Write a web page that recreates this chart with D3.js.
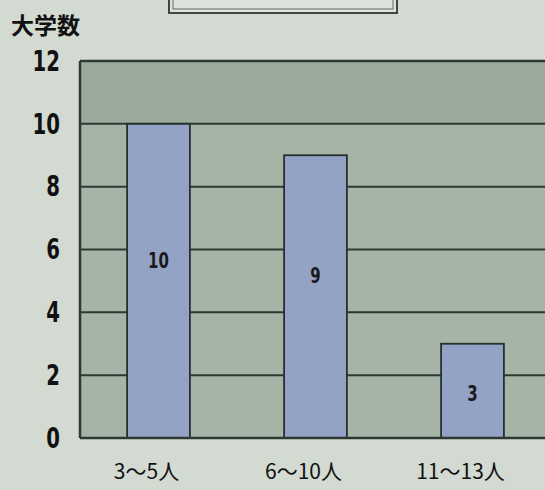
<!DOCTYPE html>
<html><head><meta charset="utf-8">
<script src="https://cdn.jsdelivr.net/npm/d3@7"></script>
<style>
html,body{margin:0;padding:0;background:#d3dad1;overflow:hidden}
</style></head>
<body>
<svg id="c" width="545" height="490"></svg>
<script>
const categories = ["3～5人", "6～10人", "11～13人"];
const values = [10, 9, 3];
const yTicks = [0, 2, 4, 6, 8, 10, 12];
const yLabel = "大学数";

(function () {
const svg = d3.select("#c");
const W = 545, H = 490;
const pLeft = 80, pTop = 60, pRight = 551, pBottom = 438;
const font = "'DejaVu Sans',sans-serif";
const sx = 0.68;

svg.append("rect").attr("width", W).attr("height", H).attr("fill", "#d3dad1");

// title box (cut off at top)
svg.append("rect").attr("x", 169).attr("y", -20).attr("width", 228).attr("height", 33)
  .attr("fill", "#dde2da").attr("stroke", "#333").attr("stroke-width", 1.8);
svg.append("rect").attr("x", 173).attr("y", -20).attr("width", 220).attr("height", 29)
  .attr("fill", "none").attr("stroke", "#666").attr("stroke-width", 1);

const x = d3.scaleBand().domain(categories).range([pLeft, pRight]).paddingInner(0.6).paddingOuter(0.3);
const y = d3.scaleLinear().domain([0, 12]).range([pBottom, pTop + 1]);

// plot area
svg.append("rect").attr("x", pLeft).attr("y", y(12)).attr("width", pRight - pLeft).attr("height", pBottom - y(12))
  .attr("fill", "#a5b4a7");
svg.append("rect").attr("x", pLeft).attr("y", y(12)).attr("width", pRight - pLeft).attr("height", y(10) - y(12))
  .attr("fill", "#9aab9e");

// gridlines
svg.append("g").selectAll("line").data(yTicks.filter(d => d > 0 && d < 12)).join("line")
  .attr("x1", pLeft).attr("x2", pRight).attr("y1", d => y(d)).attr("y2", d => y(d))
  .attr("stroke", "#2e3832").attr("stroke-width", 2);
svg.append("line").attr("x1", pLeft).attr("x2", pRight).attr("y1", y(12)).attr("y2", y(12))
  .attr("stroke", "#2e3832").attr("stroke-width", 2.5);

// bars
svg.append("g").selectAll("rect").data(values).join("rect")
  .attr("x", (d, i) => x(categories[i])).attr("width", x.bandwidth())
  .attr("y", d => y(d)).attr("height", d => pBottom - y(d))
  .attr("fill", "#93a2c5").attr("stroke", "#26302c").attr("stroke-width", 1.8);

// bar labels
svg.append("g").selectAll("text").data(values).join("text")
  .attr("transform", (d, i) => `translate(${x(categories[i]) + x.bandwidth() / 2},${(y(d) + pBottom) / 2 + (d > 5 ? -21 : 3)}) scale(${sx},1)`)
  .attr("text-anchor", "middle").attr("dominant-baseline", "central")
  .attr("font-family", font).attr("font-weight", "bold").attr("font-size", 22)
  .attr("fill", "#1a1a1a").text(d => d);

// axis lines
svg.append("line").attr("x1", pLeft).attr("x2", pLeft).attr("y1", y(12)).attr("y2", pBottom)
  .attr("stroke", "#2e3832").attr("stroke-width", 2.5);
svg.append("line").attr("x1", pLeft).attr("x2", pRight).attr("y1", pBottom).attr("y2", pBottom)
  .attr("stroke", "#2e3832").attr("stroke-width", 2.5);

// y tick labels
const yAxis = d3.axisLeft(y).tickValues(yTicks).tickSize(0).tickPadding(0);
const gy = svg.append("g").attr("transform", `translate(${pLeft - 20},0)`).call(yAxis);
gy.select(".domain").remove();
gy.selectAll("text").attr("x", 0).attr("transform", `scale(${sx},1)`)
  .attr("font-family", font).attr("font-weight", "bold")
  .attr("font-size", 29).attr("fill", "#111");

// x labels
const xAxis = d3.axisBottom(x).tickSize(0).tickPadding(26);
const gx = svg.append("g").attr("transform", `translate(-12,${pBottom})`).call(xAxis);
gx.select(".domain").remove();
gx.selectAll("text").attr("font-family", "'Noto Sans CJK JP',sans-serif")
  .attr("font-size", 21).attr("fill", "#111");

// y label
svg.append("text").attr("x", 11).attr("y", 24).attr("dominant-baseline", "central")
  .attr("font-family", "'Noto Sans CJK JP',sans-serif").attr("font-weight", "bold")
  .attr("font-size", 23).attr("fill", "#111").text(yLabel);
})();
</script>
</body></html>
